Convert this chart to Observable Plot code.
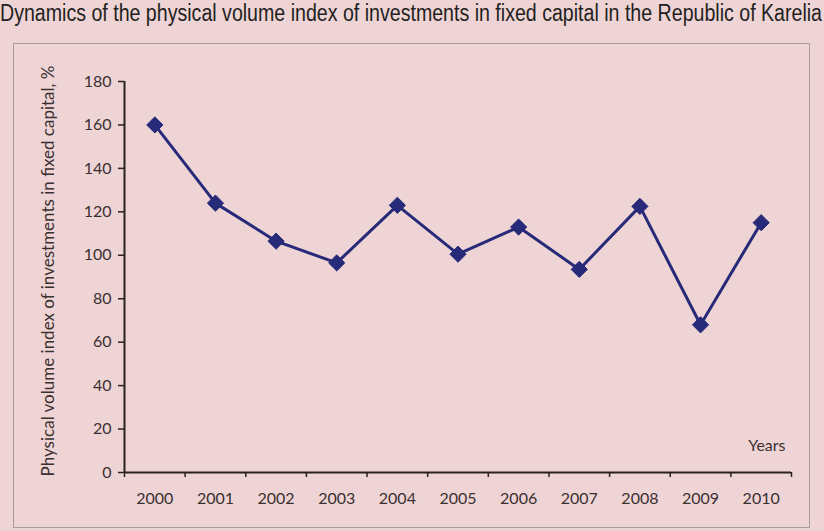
<!DOCTYPE html>
<html>
<head>
<meta charset="utf-8">
<script src="https://cdn.jsdelivr.net/npm/d3@7"></script>
<script src="https://cdn.jsdelivr.net/npm/@observablehq/plot@0.6"></script>
<style>
  html, body { margin: 0; padding: 0; background: #efd4d6; width: 824px; height: 531px; overflow: hidden; }
  #wrap { position: relative; width: 824px; height: 531px; }
  #title { position: absolute; left: 0px; top: 0px; font-family: "Liberation Sans", Arial, sans-serif; font-size: 23.5px; color: #231f20; white-space: nowrap; transform-origin: 0 0; display: inline-block; }
  #box { position: absolute; left: 13px; top: 43px; width: 797px; height: 485px; border: 1.5px solid #a99c9d; box-sizing: border-box; }
  #chart { position: absolute; left: 0; top: 0; }
</style>
</head>
<body>
<div id="wrap">
  <div id="title">Dynamics of the physical volume index of investments in fixed capital in the Republic of Karelia</div>
  <div id="box"></div>
  <div id="chart"></div>
</div>
<script>
const years = [2000, 2001, 2002, 2003, 2004, 2005, 2006, 2007, 2008, 2009, 2010];
const values = [160, 124, 106.5, 96.5, 123, 100.5, 113, 93.5, 122.5, 68, 115];
const yTicks = [0, 20, 40, 60, 80, 100, 120, 140, 160, 180];
const yLabel = "Physical volume index of investments in fixed capital, %";
const xLabel = "Years";

const title = document.getElementById("title");
const tw = title.getBoundingClientRect().width;
title.style.transform = `scaleX(${822 / tw})`;

const data = years.map((y, i) => ({year: y, value: values[i]}));
const boundaries = [...years.map(y => y - 0.5), years[years.length - 1] + 0.5];

const ink = "#2a2020";
const txt = "#3a3030";
const plot = Plot.plot({
  width: 824,
  height: 531,
  marginLeft: 124,
  marginRight: 33,
  marginTop: 81,
  marginBottom: 59,
  style: {background: "transparent", fontFamily: "Lato, 'Open Sans', sans-serif", fontSize: "16px", color: ink},
  x: {domain: [boundaries[0], boundaries[boundaries.length - 1]]},
  y: {domain: [0, 180]},
  marks: [
    Plot.axisY({ticks: yTicks, tickSize: 6, tickPadding: 7, tickFormat: d => String(d), label: null, stroke: ink, strokeWidth: 1.5, fontSize: 16, fill: txt}),
    Plot.text([yLabel], {frameAnchor: "left", textAnchor: "middle", rotate: -90, dx: -76, dy: -6, fontSize: 17, fill: txt}),
    Plot.axisX({ticks: boundaries, tickSize: 5, tickFormat: () => "", label: null, stroke: ink, strokeWidth: 1.5}),
    Plot.axisX({ticks: years, tickSize: 0, tickPadding: 20, tickFormat: d => String(d), fontSize: 16, fill: txt, label: null}),
    Plot.text([xLabel], {frameAnchor: "bottom-right", textAnchor: "end", dx: -6, dy: -22, fontSize: 16, fill: txt}),
    Plot.ruleY([0], {stroke: ink, strokeWidth: 2}),
    Plot.ruleX([boundaries[0]], {stroke: ink, strokeWidth: 2}),
    Plot.line(data, {x: "year", y: "value", stroke: "#272a78", strokeWidth: 3}),
    Plot.dot(data, {x: "year", y: "value", symbol: "diamond2", r: 7.3, fill: "#272a78", stroke: "#272a78", strokeWidth: 1})
  ]
});
document.getElementById("chart").appendChild(plot);
</script>
</body>
</html>
